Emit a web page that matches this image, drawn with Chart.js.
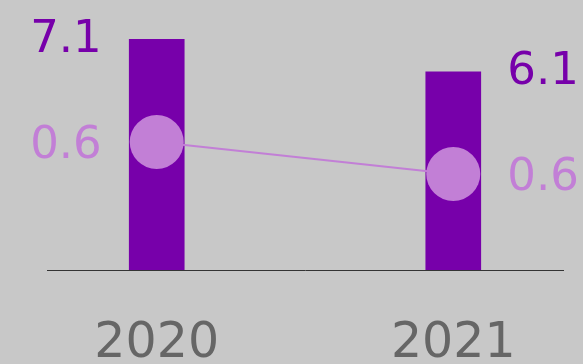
<!DOCTYPE html>
<html>
<head>
<meta charset="utf-8">
<script src="https://cdn.jsdelivr.net/npm/chart.js@4"></script>
<style>
  html, body { margin: 0; padding: 0; background: #c8c8c8; }
  #wrap { width: 583px; height: 364px; }
</style>
</head>
<body>
<div id="wrap"><canvas id="chart" width="583" height="364"></canvas></div>
<script>
// data
const years = ["2020", "2021"];
const barValues = [7.1, 6.1];
const lineValues = [0.64, 0.56];

const BAR_COLOR = "#7700aa";
const LINE_COLOR = "#c27fd6";
const FONT = "'DejaVu Sans', Verdana, sans-serif";

/* value labels beside bars and points */
const sideLabels = {
    id: "sideLabels",
    afterDatasetsDraw(chart) {
        const ctx = chart.ctx;
        ctx.save();
        ctx.font = "45px " + FONT;
        ctx.textBaseline = "middle";
        chart.data.datasets.forEach((ds, di) => {
            const meta = chart.getDatasetMeta(di);
            meta.data.forEach((el, i) => {
                const left = i === 0;
                const isBar = ds.type === "bar";
                ctx.fillStyle = isBar ? BAR_COLOR : LINE_COLOR;
                ctx.textAlign = left ? "right" : "left";
                const x = left ? el.x - 55 : el.x + 54;
                const y = isBar ? el.y + 1 : el.y + 4;
                ctx.fillText(ds.data[i].y.toFixed(1), x, y);
            });
        });
        ctx.restore();
    }
};

const ctx = document.getElementById("chart").getContext("2d");

new Chart(ctx, {
    data: {
        datasets: [
            {
                type: "line",
                label: "ratio",
                data: years.map((y, i) => ({ x: i, y: lineValues[i] })),
                yAxisID: "y2",
                borderColor: LINE_COLOR,
                borderWidth: 2,
                pointRadius: 27,
                pointBackgroundColor: LINE_COLOR,
                pointBorderWidth: 0,
                order: 0
            },
            {
                type: "bar",
                label: "value",
                data: years.map((y, i) => ({ x: i, y: barValues[i] })),
                yAxisID: "y",
                backgroundColor: BAR_COLOR,
                barThickness: 55,
                order: 1
            }
        ]
    },
    options: {
        responsive: false,
        animation: false,
        layout: {
            autoPadding: false,
            padding: { left: 47, right: 20, top: 10, bottom: -55 }
        },
        plugins: {
            legend: { display: false },
            tooltip: { enabled: false }
        },
        scales: {
            x: {
                type: "linear",
                offset: false,
                min: -0.37,
                max: 1.37,
                afterBuildTicks: scale => {
                    scale.ticks = years.map((y, i) => ({ value: i }));
                },
                grid: { display: false, drawTicks: false },
                border: { display: true, color: "#333333", width: 1 },
                ticks: {
                    autoSkip: false,
                    maxRotation: 0,
                    padding: 50,
                    color: "#666666",
                    font: { size: 49, family: FONT, lineHeight: 1 },
                    callback: v => years[v]
                }
            },
            y: {
                display: false,
                min: 0,
                max: 8
            },
            y2: {
                display: false,
                min: 0.32,
                max: 0.97
            }
        }
    },
    plugins: [sideLabels]
});
</script>
</body>
</html>
